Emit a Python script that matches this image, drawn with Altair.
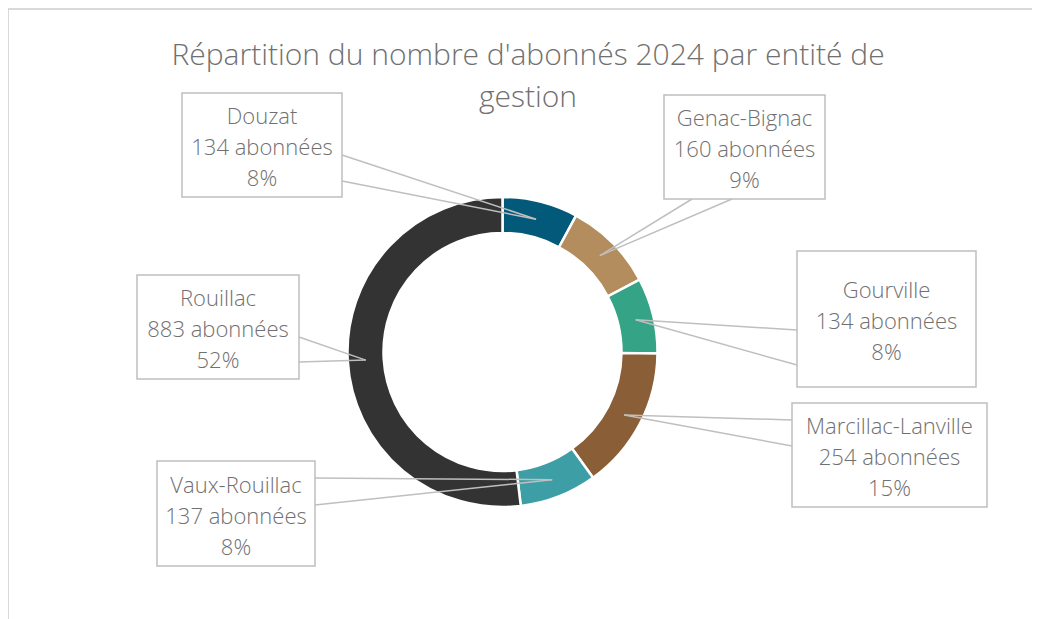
import altair as alt
import pandas as pd

# ---- data ----
entites = ["Douzat", "Genac-Bignac", "Gourville", "Marcillac-Lanville", "Vaux-Rouillac", "Rouillac"]
abonnes = [134, 160, 134, 254, 137, 883]
couleurs = ["#03597A", "#B38D5D", "#35A385", "#8A5F37", "#3E9EA6", "#333333"]
titre = "Répartition du nombre d'abonnés 2024 par entité de\ngestion"

# ---- layout (callout boxes, chart pixels) ----
box_x1 = [174, 656, 789, 784, 149, 129]
box_x2 = [334, 817, 968, 979, 307, 291]
box_y1 = [85, 87, 243, 395, 453, 267]
box_y2 = [189, 191, 379, 499, 558, 371]
anc1_x = [334, 684, 789, 784, 307, 291]
anc1_y = [147, 191, 322, 412, 470, 329]
anc2_x = [334, 724, 789, 784, 307, 291]
anc2_y = [173, 191, 357, 438, 497, 354]

W, H = 1024, 611
CX, CY = 494.5, 344
R_OUT, R_IN, R_TIP = 155, 119, 137
LH = 31

df = pd.DataFrame({
    "entite": entites, "value": abonnes, "order": list(range(len(entites))),
    "bx1": box_x1, "bx2": box_x2, "by1": box_y1, "by2": box_y2,
    "a1x": anc1_x, "a1y": anc1_y, "a2x": anc2_x, "a2y": anc2_y,
})

xs = alt.Scale(domain=[0, W], range=[0, W])
ys = alt.Scale(domain=[0, H], range=[0, H])

base = alt.Chart(df).transform_joinaggregate(
    total="sum(value)"
).transform_window(
    cum="sum(value)", sort=[alt.SortField("order")], frame=[None, 0]
).transform_calculate(
    mid="(datum.cum - datum.value/2) / datum.total * 2 * PI",
    pct="round(datum.value / datum.total * 100) + '%'",
).transform_calculate(
    tx=f"{CX} + {R_TIP} * sin(datum.mid)",
    ty=f"{CY} - {R_TIP} * cos(datum.mid)",
    label="datum.entite + '\\n' + datum.value + ' abonnées\\n' + datum.pct",
    tcy=f"(datum.by1 + datum.by2) / 2 + 3 - {LH}",
    tcx="(datum.bx1 + datum.bx2) / 2",
)

arcs = alt.Chart(df).mark_arc(
    outerRadius=R_OUT, innerRadius=R_IN, stroke="white", strokeWidth=2.5
).encode(
    theta=alt.Theta("value:Q", stack=True),
    order=alt.Order("order:Q"),
    color=alt.Color("entite:N", scale=alt.Scale(domain=entites, range=couleurs), legend=None),
    x=alt.value(CX), y=alt.value(CY),
)

line_style = dict(color="#BFBFBF", strokeWidth=1.5)
rule1 = base.mark_rule(**line_style).encode(
    x=alt.X("a1x:Q", scale=xs, axis=None), y=alt.Y("a1y:Q", scale=ys, axis=None),
    x2="tx:Q", y2="ty:Q",
)
rule2 = base.mark_rule(**line_style).encode(
    x=alt.X("a2x:Q", scale=xs, axis=None), y=alt.Y("a2y:Q", scale=ys, axis=None),
    x2="tx:Q", y2="ty:Q",
)
boxes = base.mark_rect(fill="white", stroke="#BFBFBF", strokeWidth=1.5).encode(
    x=alt.X("bx1:Q", scale=xs, axis=None), x2="bx2:Q",
    y=alt.Y("by1:Q", scale=ys, axis=None), y2="by2:Q",
)
texts = base.mark_text(
    font="Open Sans", fontSize=22, fontWeight=300, color="#707070",
    lineBreak="\n", lineHeight=LH, align="center", baseline="middle",
).encode(
    x=alt.X("tcx:Q", scale=xs, axis=None), y=alt.Y("tcy:Q", scale=ys, axis=None),
    text="label:N",
)

frame_df = pd.DataFrame({"k": [0]})
top_border = alt.Chart(frame_df).mark_rule(color="#D9D9D9", strokeWidth=2).encode(
    x=alt.value(0), x2=alt.value(W + 20), y=alt.value(1)
)
left_border = alt.Chart(frame_df).mark_rule(color="#D9D9D9", strokeWidth=2).encode(
    x=alt.value(0), y=alt.value(0), y2=alt.value(H + 20)
)
title_df = pd.DataFrame({"t": [titre]})
title = alt.Chart(title_df).mark_text(
    font="Open Sans", fontSize=30, fontWeight=300, color="#707070",
    lineBreak="\n", lineHeight=42, align="center", baseline="middle",
).encode(x=alt.value(520), y=alt.value(48), text="t:N")

chart = alt.layer(
    top_border, left_border, title, arcs, rule1, rule2, boxes, texts
).properties(
    width=W, height=H, autosize=alt.AutoSizeParams(type="none"), padding=0
).configure_view(stroke=None)

chart.save("out.html", embed_options={"renderer": "svg", "actions": False})
